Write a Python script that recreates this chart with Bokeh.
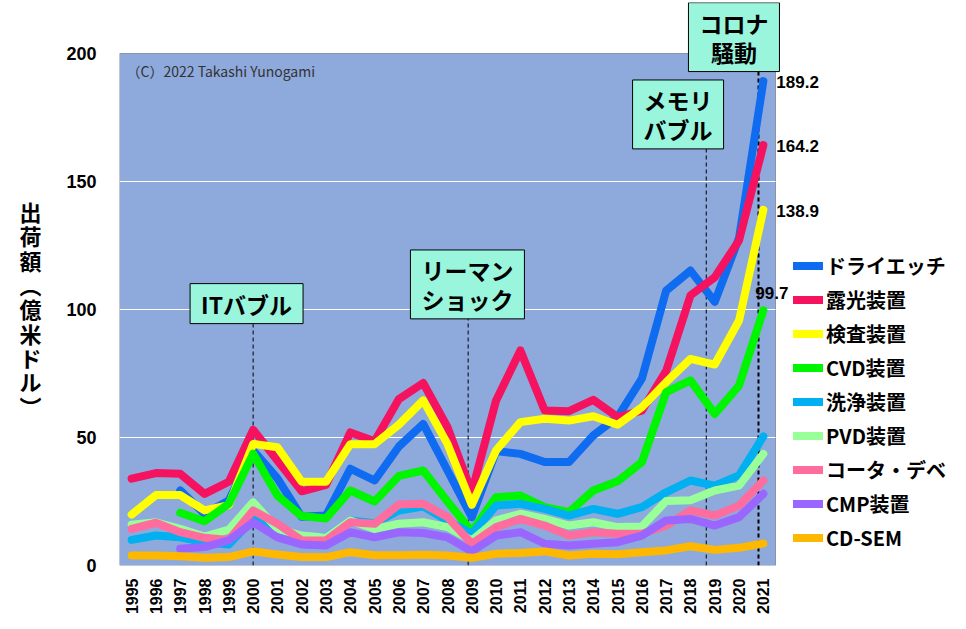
import numpy as np
from bokeh.plotting import figure
from bokeh.models import Range1d, Label, FixedTicker, BoxAnnotation
from bokeh.embed import file_html
from bokeh.resources import INLINE

nan = np.nan
years = list(range(1995, 2022))

dry_etch = [nan, nan, 29.3, 20.2, 25.4, 45.0, 34.0, 19.0, 19.5, 37.8, 33.2, 46.5, 55.3, 37.1, 18.9,
            44.7, 43.6, 40.4, 40.4, 50.8, 58.0, 73.0, 107.4, 115.2, 103.0, 128.0, 189.2]
litho = [33.9, 36.1, 35.8, 28.0, 32.7, 53.0, 41.0, 29.0, 31.5, 52.0, 48.5, 65.0, 71.3, 54.0, 28.6,
         64.5, 84.0, 60.5, 60.3, 64.7, 58.0, 60.5, 76.0, 105.5, 112.6, 127.0, 164.2]
inspect = [19.9, 27.5, 27.5, 21.5, 23.6, 47.5, 46.2, 32.7, 32.7, 47.4, 47.4, 55.0, 64.5, 47.5, 23.7,
           45.0, 56.0, 57.3, 56.6, 58.3, 55.0, 61.8, 71.6, 80.7, 78.5, 95.7, 138.9]
cvd = [nan, nan, 20.6, 17.3, 24.1, 43.7, 27.3, 19.3, 18.4, 29.3, 25.0, 35.0, 37.1, 25.0, 13.3,
       26.7, 27.3, 22.8, 20.8, 29.3, 32.9, 40.4, 67.7, 72.3, 59.2, 70.3, 99.7]
clean = [10.0, 11.7, 11.0, 9.1, 8.2, 18.2, 13.7, 11.0, 11.0, 17.6, 16.5, 21.5, 23.0, 17.6, 12.4,
         23.4, 24.1, 22.1, 19.5, 22.1, 20.2, 22.8, 28.6, 33.2, 31.2, 35.2, 50.4]
pvd = [15.9, 16.9, 14.3, 11.3, 14.0, 24.7, 14.3, 11.7, 10.8, 17.6, 14.3, 16.3, 16.9, 15.0, 9.8,
       17.6, 20.2, 18.2, 15.6, 16.9, 15.0, 15.2, 25.2, 25.5, 29.3, 31.2, 43.6]
coater = [14.3, 16.7, 13.0, 10.8, 10.0, 21.5, 16.3, 9.8, 9.8, 16.9, 16.3, 23.8, 24.1, 18.9, 8.5,
          15.0, 18.2, 15.6, 11.7, 13.0, 12.4, 12.4, 15.6, 21.5, 19.5, 23.4, 33.2]
cmp_ = [nan, nan, 6.5, 7.2, 9.8, 16.9, 11.0, 8.2, 7.8, 13.0, 11.0, 13.0, 12.7, 11.0, 5.5,
        11.7, 13.0, 8.5, 7.8, 8.5, 9.1, 11.7, 17.6, 18.2, 15.6, 18.9, 28.0]
cdsem = [3.9, 3.9, 3.6, 3.0, 3.3, 5.5, 4.3, 3.3, 3.3, 5.2, 4.0, 4.0, 4.2, 3.9, 3.0,
         4.6, 4.9, 5.5, 3.9, 4.6, 4.4, 5.2, 5.9, 7.5, 6.1, 6.9, 8.6]

series_names = ["ドライエッチ", "露光装置", "検査装置", "CVD装置", "洗浄装置", "PVD装置",
                "コータ・デベ", "CMP装置", "CD-SEM"]
series_values = [dry_etch, litho, inspect, cvd, clean, pvd, coater, cmp_, cdsem]
series_colors = ["#0F6BF0", "#F5125E", "#FFFF00", "#00F500", "#00B0F0", "#99FF99",
                 "#FF6C9E", "#9966FF", "#FFB800"]

y_ticks = [0, 50, 100, 150, 200]
grid_ticks = [50, 100, 150]
y_title = ["出", "荷", "額", "︵", "億", "米", "ド", "ル", "︶"]

events = [("ITバブル", 2000.0, 1999.73, 102.3),
          ("リーマン\nショック", 2008.85, 2008.82, 109.8),
          ("メモリ\nバブル", 2018.65, 2017.49, 176.2),
          ("コロナ\n騒動", 2020.8, 2019.79, 206.4)]

JP = "Noto Sans CJK JP"
NUM = "Liberation Sans"

# plot-area geometry (pixels)
AREA_W, AREA_H = 656, 512
X0, X1 = 1994.5, 2021.5
Y0, Y1 = 0, 200
LEFT, TOP_ROOM, RIGHT_ROOM, BOTTOM = 119, 51, 183, 56
px_per_x = AREA_W / (X1 - X0)
px_per_y = AREA_H / (Y1 - Y0)

p = figure(frame_width=AREA_W + RIGHT_ROOM, frame_height=AREA_H + TOP_ROOM,
           min_border_left=LEFT, min_border_right=0, min_border_top=2, min_border_bottom=BOTTOM,
           x_range=Range1d(X0, X1 + RIGHT_ROOM / px_per_x),
           y_range=Range1d(Y0, Y1 + TOP_ROOM / px_per_y),
           output_backend="svg", toolbar_location=None)
p.background_fill_color = "white"
p.border_fill_color = "white"
p.outline_line_color = None
p.grid.visible = False

# plot area
p.add_layout(BoxAnnotation(left=X0, right=X1, bottom=Y0, top=Y1, fill_color="#8EA9DB",
                           fill_alpha=1.0, line_color="black", line_width=1, level="underlay"))
p.segment(x0=X0, x1=X1, y0=grid_ticks, y1=grid_ticks, line_color="white", line_width=1)

p.yaxis.ticker = FixedTicker(ticks=y_ticks)
p.xaxis.ticker = FixedTicker(ticks=years)
for ax in (p.xaxis[0], p.yaxis[0]):
    ax.axis_line_color = None
    ax.major_tick_line_color = None
    ax.minor_tick_line_color = None
    ax.major_tick_out = 0
    ax.major_tick_in = 0
    ax.major_label_text_font = NUM
    ax.major_label_text_font_style = "bold"
    ax.major_label_text_color = "black"
p.yaxis.major_label_text_font_size = "18px"
p.yaxis.major_label_standoff = 23
p.xaxis.major_label_text_font_size = "16px"
p.xaxis.major_label_orientation = np.pi / 2
p.xaxis.major_label_standoff = 13

# stacked vertical title; leading blank rows push it down to the plot-area centre
p.yaxis.axis_label = "\n".join(["\u3000"] * 2 + y_title)
p.yaxis.axis_label_orientation = "horizontal"
p.yaxis.axis_label_text_font = JP
p.yaxis.axis_label_text_font_style = "bold"
p.yaxis.axis_label_text_font_size = "22px"
p.yaxis.axis_label_text_line_height = 0.76
p.yaxis.axis_label_standoff = 22
p.yaxis.axis_label_text_color = "black"

# event dashed lines
for name, xe, xl, yl in events:
    p.segment(x0=xe, y0=0, x1=xe, y1=yl, line_color="black",
              line_width=2 if name.startswith("コロナ") else 1, line_dash="4 3")

for name, vals, col in zip(series_names, series_values, series_colors):
    p.line(years, np.array(vals, dtype=float), line_color=col, line_width=8,
           line_cap="round", line_join="round", legend_label=name)

lg = p.legend[0]
lg.location = (674, 12)
lg.padding = 0
lg.margin = 0
lg.spacing = 3
lg.glyph_width = 30
lg.glyph_height = 31
lg.label_height = 31
lg.label_standoff = 3
lg.border_line_color = None
lg.background_fill_alpha = 0
lg.label_text_font = JP
lg.label_text_font_style = "bold"
lg.label_text_font_size = "20px"
lg.label_text_color = "black"

for name, xe, xl, yl in events:
    p.add_layout(Label(x=xl, y=yl, text=name, text_align="center", text_baseline="middle",
                       text_font=JP, text_font_style="bold", text_font_size="23px",
                       text_color="black", text_line_height=0.85,
                       background_fill_color="#99F5DC", border_line_color="black",
                       border_line_width=1, padding=(11, 3)))

# end value labels
end_vals = [dry_etch[-1], litho[-1], inspect[-1]]
for v in end_vals:
    p.add_layout(Label(x=years[-1], y=v, x_offset=13, y_offset=-1, text=f"{v}",
                       text_align="left", text_baseline="middle",
                       text_font=NUM, text_font_style="bold",
                       text_font_size="17px", text_color="black"))
p.add_layout(Label(x=years[-1], y=cvd[-1], x_offset=-8, y_offset=17, text=f"{cvd[-1]}",
                   text_align="left", text_baseline="middle",
                   text_font=NUM, text_font_style="bold",
                   text_font_size="17px", text_color="black"))

p.add_layout(Label(x=X0, x_offset=7, y=193.1, text="（C）2022 Takashi Yunogami",
                   text_align="left", text_baseline="middle", text_font=JP,
                   text_font_size="14px", text_color="#333333"))

open("out.html", "w").write(file_html(p, INLINE))
